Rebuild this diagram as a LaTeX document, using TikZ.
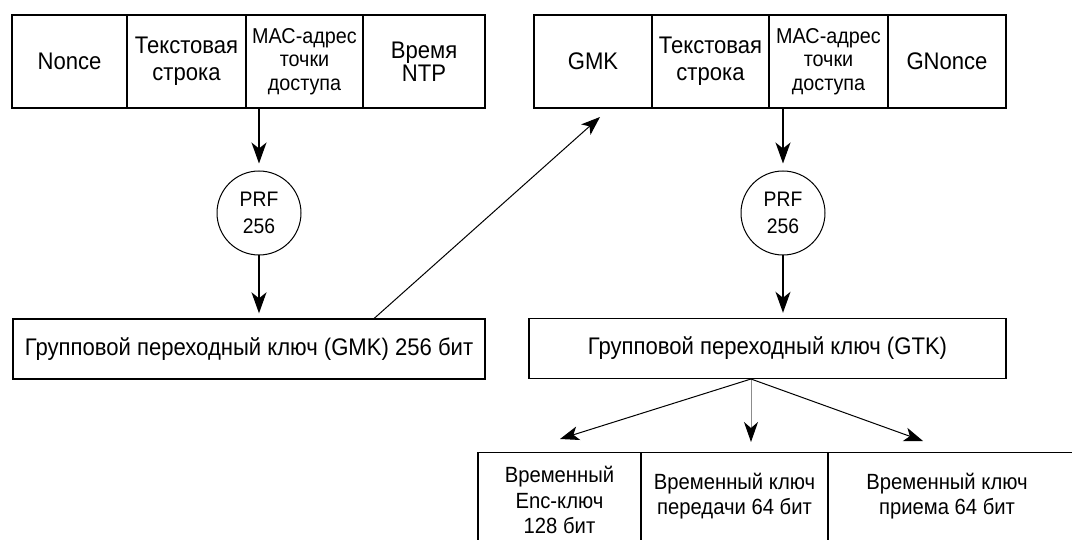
\documentclass[tikz,border=0pt]{standalone}
\usepackage{fontspec}
\setmainfont{Liberation Sans}[FakeStretch=0.92]
\usetikzlibrary{arrows.meta,calc}
\begin{document}
\begin{tikzpicture}[x=1pt,y=-1pt,
  cell/.style={draw,line width=1.4pt,minimum height=93pt,inner sep=0pt,align=center,
    font=\fontsize{24}{27}\selectfont},
  smallcell/.style={cell,font=\fontsize{21.5}{23.5}\selectfont},
  prf/.style={draw,circle,line width=1pt,minimum size=84pt,inner sep=0pt,align=center,
    font=\fontsize{21}{27}\selectfont},
  keybox/.style={draw,line width=1.4pt,minimum height=60pt,inner sep=0pt,
    font=\fontsize{24}{27}\selectfont},
  subbox/.style={draw,line width=1.4pt,minimum height=140pt,inner sep=0pt,anchor=north},
  subtext/.style={align=center,inner sep=0pt,font=\fontsize{22}{25.5}\selectfont},
  flow/.style={line width=1.4pt,-{Stealth[length=21pt,width=15pt,inset=6pt]}},
  thin/.style={line width=1pt,-{Stealth[length=19pt,width=14pt,inset=5pt]}},
]
\useasboundingbox (0,0) rectangle (1072,540);
\fill[white] (0,0) rectangle (1072,540);

% top left row
\node[cell,minimum width=115pt] (nonce) at (69.5,61.5) {Nonce};
\node[cell,minimum width=119pt] (txt1) at (186.5,61.5) {Текстовая\\строка};
\node[smallcell,minimum width=117pt] (mac1) at (304.5,61.5) {МАС-адрес\\точки\\доступа};
\node[cell,minimum width=122pt,font=\fontsize{24}{23}\selectfont] (ntp) at (424,61.5) {Время\\NTP};

% top right row
\node[cell,minimum width=118pt] (gmk) at (593,61.5) {GMK};
\node[cell,minimum width=117pt] (txt2) at (710.5,61.5) {Текстовая\\строка};
\node[smallcell,minimum width=119pt] (mac2) at (828.5,61.5) {МАС-адрес\\точки\\доступа};
\node[cell,minimum width=118pt] (gnonce) at (947,61.5) {GNonce};

% PRF circles
\node[prf] (prf1) at (259,213) {PRF\\256};
\node[prf] (prf2) at (783,213) {PRF\\256};

% key boxes
\node[keybox,minimum width=472pt] (gmkkey) at (249,349) {Групповой переходный ключ (GMK) 256 бит};
\node[keybox,minimum width=477pt] (gtkkey) at (767.5,348.5) {Групповой переходный ключ (GTK)};

% bottom boxes (run past the edge)
\begin{scope}
\clip (0,0) rectangle (1072,540);
\node[subbox,minimum width=163pt] (k1) at (559.5,452) {};
\node[subbox,minimum width=187pt] (k2) at (734.5,452) {};
\node[subbox,minimum width=260pt] (k3) at (958,452) {};
\end{scope}
\node[subtext] (k1t) at (559.5,500) {Временный\\Enc-ключ\\128 бит};
\node[subtext] (k2t) at (734.5,496) {Временный ключ\\передачи 64 бит};
\node[subtext] (k3t) at (947,496) {Временный ключ\\приема 64 бит};

% connectors
\draw[flow,shorten >=7pt] (prf1 |- mac1.south) -- (prf1.north);
\draw[flow,shorten >=5pt] (prf1.south) -- (prf1 |- gmkkey.north);
\draw[flow,shorten >=7pt] (prf2 |- mac2.south) -- (prf2.north);
\draw[flow,shorten >=5pt] (prf2.south) -- (prf2 |- gtkkey.north);

\coordinate (gmkstart) at ($(gmkkey.north west)+(362,0)$);
\coordinate (gmkin) at (600,117);
\draw[thin] (gmkstart) -- (gmkin);

\coordinate (split) at (751,379);
\coordinate (t1) at (560,439);
\coordinate (t2) at (751,442);
\coordinate (t3) at (923,441);
\draw[thin] (split) -- (t1);
\draw[thin,draw=black!45,-{Stealth[length=20pt,width=14pt,inset=6pt,black]}] (split) -- (t2);
\draw[thin] (split) -- (t3);
\end{tikzpicture}
\end{document}
